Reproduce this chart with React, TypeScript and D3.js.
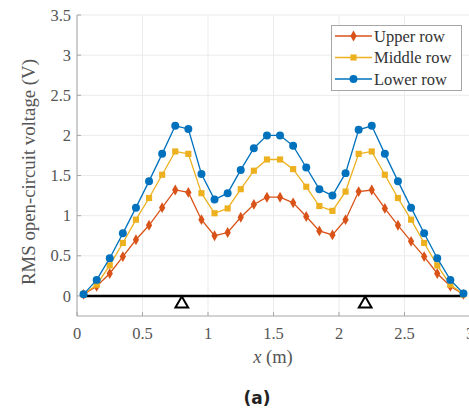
import { useEffect, useRef } from "react";
import * as d3 from "d3";

const positions = [
  0.05, 0.15, 0.25, 0.35, 0.45, 0.55, 0.65, 0.75, 0.85, 0.95, 1.05, 1.15, 1.25, 1.35, 1.45,
  1.55, 1.65, 1.75, 1.85, 1.95, 2.05, 2.15, 2.25, 2.35, 2.45, 2.55, 2.65, 2.75, 2.85, 2.95,
];
const upperRow = [
  0.02, 0.12, 0.28, 0.49, 0.7, 0.88, 1.1, 1.32, 1.29, 0.95, 0.75, 0.79, 0.98, 1.14, 1.23,
  1.23, 1.16, 0.99, 0.81, 0.76, 0.95, 1.3, 1.32, 1.09, 0.88, 0.68, 0.49, 0.28, 0.12, 0.02,
];
const middleRow = [
  0.02, 0.14, 0.38, 0.66, 0.95, 1.22, 1.51, 1.8, 1.77, 1.28, 1.03, 1.09, 1.33, 1.56, 1.7,
  1.7, 1.58, 1.36, 1.12, 1.06, 1.3, 1.77, 1.8, 1.51, 1.22, 0.95, 0.66, 0.38, 0.14, 0.02,
];
const lowerRow = [
  0.02, 0.2, 0.47, 0.78, 1.1, 1.43, 1.77, 2.12, 2.08, 1.52, 1.2, 1.28, 1.57, 1.84, 2.0,
  2.0, 1.87, 1.6, 1.33, 1.25, 1.53, 2.07, 2.12, 1.77, 1.43, 1.1, 0.78, 0.47, 0.2, 0.03,
];
const seriesNames = ["Upper row", "Middle row", "Lower row"];
const xTicks = [0, 0.5, 1, 1.5, 2, 2.5, 3];
const yTicks = [0, 0.5, 1, 1.5, 2, 2.5, 3, 3.5];
const beamEnds = [0.05, 2.95];
const supports = [0.8, 2.2];

const W = 469;
const H = 411;
const FONT = "'Liberation Serif', 'Times New Roman', serif";

const App = () => {
  const svgRef = useRef(null);

  useEffect(() => {
    const svg = d3.select(svgRef.current);
    svg.selectAll("*").remove();

    const x = d3.scaleLinear().domain([0, 3]).range([77, 470]);
    const y = d3.scaleLinear().domain([-0.25, 3.5]).range([316, 15]);

    const series = [
      { name: seriesNames[0], values: upperRow, color: "#D95319", shape: d3.symbolDiamond, size: 34 },
      { name: seriesNames[1], values: middleRow, color: "#EDB120", shape: d3.symbolSquare, size: 38 },
      { name: seriesNames[2], values: lowerRow, color: "#0072BD", shape: d3.symbolCircle, size: 50 },
    ];

    // grid
    const grid = svg.append("g").attr("stroke", "#ebebeb").attr("stroke-width", 1);
    xTicks.forEach((t) => {
      grid.append("line").attr("x1", x(t)).attr("x2", x(t)).attr("y1", y(-0.25)).attr("y2", y(3.5));
    });
    yTicks.forEach((t) => {
      grid.append("line").attr("x1", x(0)).attr("x2", x(3)).attr("y1", y(t)).attr("y2", y(t));
    });

    // axes (matlab style, ticks inside)
    const axisColor = "#a6a6a6";
    svg.append("line")
      .attr("x1", x(0)).attr("x2", x(0)).attr("y1", y(-0.25)).attr("y2", y(3.5))
      .attr("stroke", axisColor);
    svg.append("line")
      .attr("x1", x(0)).attr("x2", x(3)).attr("y1", y(-0.25)).attr("y2", y(-0.25))
      .attr("stroke", axisColor);

    xTicks.forEach((t) => {
      svg.append("line")
        .attr("x1", x(t)).attr("x2", x(t)).attr("y1", y(-0.25)).attr("y2", y(-0.25) - 4)
        .attr("stroke", axisColor);
      svg.append("text")
        .attr("x", x(t)).attr("y", 339)
        .attr("text-anchor", "middle")
        .attr("font-family", FONT).attr("font-size", 16.5)
        .attr("fill", "#555")
        .text(d3.format("")(t));
    });
    yTicks.forEach((t) => {
      svg.append("line")
        .attr("x1", x(0)).attr("x2", x(0) + 4).attr("y1", y(t)).attr("y2", y(t))
        .attr("stroke", axisColor);
      svg.append("text")
        .attr("x", 71).attr("y", y(t)).attr("dy", "0.34em")
        .attr("text-anchor", "end")
        .attr("font-family", FONT).attr("font-size", 16.5)
        .attr("fill", "#555")
        .text(d3.format("")(t));
    });

    // axis labels
    svg.append("text")
      .attr("transform", "translate(35, 172) rotate(-90)")
      .attr("text-anchor", "middle")
      .attr("font-family", FONT).attr("font-size", 18.8)
      .attr("fill", "#555")
      .text("RMS open-circuit voltage (V)");

    const xl = svg.append("text")
      .attr("x", 273).attr("y", 363)
      .attr("text-anchor", "middle")
      .attr("font-family", FONT).attr("font-size", 18.5)
      .attr("fill", "#555");
    xl.append("tspan").attr("font-style", "italic").text("x");
    xl.append("tspan").text(" (m)");

    svg.append("text")
      .attr("x", 257).attr("y", 404)
      .attr("text-anchor", "middle")
      .attr("font-family", "'DejaVu Sans', sans-serif").attr("font-weight", "bold").attr("font-size", 17)
      .attr("fill", "#222")
      .text("(a)");

    // beam + supports
    svg.append("line")
      .attr("x1", x(beamEnds[0])).attr("x2", x(beamEnds[1]))
      .attr("y1", y(0)).attr("y2", y(0))
      .attr("stroke", "#000").attr("stroke-width", 2.6);
    const tri = d3.symbol().type(d3.symbolTriangle).size(70);
    supports.forEach((s) => {
      svg.append("path")
        .attr("d", tri())
        .attr("transform", `translate(${x(s)}, ${y(0) + 8})`)
        .attr("fill", "#fff").attr("stroke", "#000").attr("stroke-width", 2);
    });

    // series
    const line = d3.line<number>().x((d, i) => x(positions[i])).y((d) => y(d));
    series.forEach((s) => {
      svg.append("path")
        .attr("d", line(s.values))
        .attr("fill", "none").attr("stroke", s.color).attr("stroke-width", 1.3);
      const sym = d3.symbol().type(s.shape).size(s.size);
      svg.append("g").selectAll("path")
        .data(s.values)
        .enter()
        .append("path")
        .attr("d", sym())
        .attr("transform", (d, i) => `translate(${x(positions[i])}, ${y(d)})`)
        .attr("fill", s.color);
    });

    // legend
    const lg = svg.append("g");
    lg.append("rect")
      .attr("x", 331.5).attr("y", 25.5).attr("width", 130).attr("height", 65)
      .attr("fill", "#fff").attr("stroke", "#a6a6a6");
    series.forEach((s, i) => {
      const ly = 36 + i * 21.5;
      lg.append("line")
        .attr("x1", 335).attr("x2", 372).attr("y1", ly).attr("y2", ly)
        .attr("stroke", s.color).attr("stroke-width", 1.3);
      lg.append("path")
        .attr("d", d3.symbol().type(s.shape).size(s.size)())
        .attr("transform", `translate(353.5, ${ly})`)
        .attr("fill", s.color);
      lg.append("text")
        .attr("x", 374).attr("y", ly).attr("dy", "0.34em")
        .attr("font-family", FONT).attr("font-size", 16.5)
        .attr("fill", "#333")
        .text(s.name);
    });
  }, []);

  return (
    <svg
      ref={svgRef}
      width={W}
      height={H}
      style={{ position: "absolute", left: 0, top: 0, background: "#fff" }}
    ></svg>
  );
};

export default App;
